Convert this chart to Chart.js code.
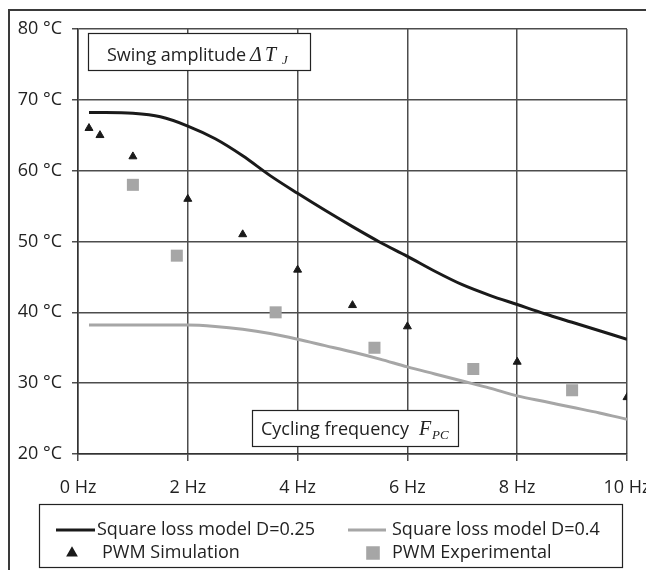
<!DOCTYPE html>
<html>
<head>
<meta charset="utf-8">
<script src="https://cdn.jsdelivr.net/npm/chart.js@4.4.1/dist/chart.umd.min.js"></script>
<style>
  html, body { margin: 0; padding: 0; background: #fff; }
  #wrap { position: relative; width: 646px; height: 570px; }
</style>
</head>
<body>
<div id="wrap"><canvas id="chart" width="646" height="570"></canvas></div>
<script>
// ── DATOS ──
const modelFreqs = [0.2, 0.5, 1, 1.5, 2, 2.5, 3, 3.5, 4, 4.5, 5, 5.5, 6, 6.5, 7, 7.5, 8, 8.5, 9, 9.5, 10];
const modelD025 = [68.2, 68.2, 68.1, 67.6, 66.3, 64.5, 62.1, 59.3, 56.8, 54.4, 52.1, 49.9, 47.9, 45.8, 43.9, 42.4, 41.1, 39.8, 38.6, 37.4, 36.2];
const modelD04 = [38.2, 38.2, 38.2, 38.2, 38.2, 38.0, 37.6, 37.0, 36.2, 35.3, 34.4, 33.4, 32.3, 31.3, 30.3, 29.3, 28.2, 27.4, 26.6, 25.8, 24.9];
const simFreqs = [0.2, 0.4, 1, 2, 3, 4, 5, 6, 8, 10];
const simValues = [66, 65, 62, 56, 51, 46, 41, 38, 33, 28];
const expFreqs = [1, 1.8, 3.6, 5.4, 7.2, 9];
const expValues = [58, 48, 40, 35, 32, 29];
const seriesNames = ['Square loss model D=0.25', 'Square loss model D=0.4', 'PWM Simulation', 'PWM Experimental'];
const xTicks = [0, 2, 4, 6, 8, 10];
const yTicks = [20, 30, 40, 50, 60, 70, 80];

const FONT = '"Open Sans", "Noto Sans", sans-serif';
const INK = '#222';
const BLACK = '#1a1a1a';
const GREY = '#a6a6a6';
const GRID = '#4d4d4d';

function pts(xs, ys) {
  return xs.map((x, i) => ({ x: x, y: ys[i] }));
}

// ── MARCO, LEYENDA Y CAJAS DE TEXTO ──
const framePlugin = {
  id: 'frame',
  beforeDraw(chart) {
    const c = chart.ctx;
    c.save();
    c.strokeStyle = '#3a3a3a';
    c.lineWidth = 2;
    c.beginPath();
    c.moveTo(9, 572);
    c.lineTo(9, 10);
    c.lineTo(650, 10);
    c.stroke();
    c.restore();
  }
};

function textBox(c, x, y, w, h, parts) {
  c.fillStyle = '#fff';
  c.fillRect(x, y, w, h);
  c.strokeStyle = '#222';
  c.lineWidth = 1.2;
  c.strokeRect(x + 0.5, y + 0.5, w, h);
  c.fillStyle = INK;
  c.textBaseline = 'alphabetic';
  c.textAlign = 'left';
  parts.forEach(p => {
    c.font = p.font;
    c.fillText(p.text, p.x, p.y);
  });
}

const notesPlugin = {
  id: 'notes',
  afterDraw(chart) {
    const c = chart.ctx;
    c.save();
    const sans = '18px ' + FONT;
    const serif = 'italic 20px "Liberation Serif", "DejaVu Serif", serif';
    const sub = 'italic 13px "Liberation Serif", "DejaVu Serif", serif';
    textBox(c, 88, 33, 222, 37, [
      { text: 'Swing amplitude', x: 107, y: 61, font: sans },
      { text: '\u0394', x: 250, y: 61, font: serif },
      { text: 'T', x: 265, y: 61, font: serif },
      { text: 'J', x: 282, y: 64, font: sub }
    ]);
    textBox(c, 252, 410, 206, 36, [
      { text: 'Cycling frequency', x: 261, y: 435, font: sans },
      { text: 'F', x: 419, y: 435, font: serif },
      { text: 'PC', x: 432, y: 439, font: sub }
    ]);
    c.restore();
  }
};

const legendPlugin = {
  id: 'boxLegend',
  afterDraw(chart) {
    const c = chart.ctx;
    const ds = chart.data.datasets;
    c.save();
    c.strokeStyle = '#222';
    c.lineWidth = 1.2;
    c.strokeRect(39.5, 504.5, 583, 63);
    c.font = '18px ' + FONT;
    c.fillStyle = INK;
    c.textBaseline = 'middle';
    c.textAlign = 'left';
    const rows = [530, 553];
    // líneas
    [[0, 56, 95, 97], [1, 348, 386, 392]].forEach(([i, x0, x1, tx]) => {
      c.strokeStyle = ds[i].borderColor;
      c.lineWidth = ds[i].borderWidth;
      c.beginPath();
      c.moveTo(x0, rows[0]);
      c.lineTo(x1, rows[0]);
      c.stroke();
      c.fillText(ds[i].label, tx, rows[0]);
    });
    // marcadores
    [[2, 72, 102, 3.8], [3, 373, 392, 7.5]].forEach(([i, mx, tx, r]) => {
      c.fillStyle = ds[i].backgroundColor;
      c.strokeStyle = ds[i].borderColor;
      Chart.helpers.drawPoint(c, { pointStyle: ds[i].pointStyle, radius: r, rotation: 0, borderWidth: 1 }, mx, rows[1]);
      c.fillStyle = INK;
      c.fillText(ds[i].label, tx, rows[1]);
    });
    c.restore();
  }
};

// ── GRÁFICA ──
new Chart(document.getElementById('chart').getContext('2d'), {
  type: 'scatter',
  data: {
    datasets: [
      {
        label: seriesNames[0], data: pts(modelFreqs, modelD025), showLine: true,
        borderColor: BLACK, backgroundColor: BLACK, borderWidth: 3, pointRadius: 0,
        cubicInterpolationMode: 'monotone'
      },
      {
        label: seriesNames[1], data: pts(modelFreqs, modelD04), showLine: true,
        borderColor: GREY, backgroundColor: GREY, borderWidth: 3, pointRadius: 0,
        cubicInterpolationMode: 'monotone'
      },
      {
        label: seriesNames[2], data: pts(simFreqs, simValues),
        pointStyle: 'triangle', pointRadius: 4.6, borderWidth: 1,
        borderColor: BLACK, backgroundColor: BLACK
      },
      {
        label: seriesNames[3], data: pts(expFreqs, expValues),
        pointStyle: 'rect', pointRadius: 8.5, borderWidth: 0,
        borderColor: GREY, backgroundColor: GREY
      }
    ]
  },
  options: {
    responsive: false,
    animation: false,
    devicePixelRatio: 1,
    layout: { padding: { left: 0, right: 19, top: 29, bottom: 0 } },
    plugins: { legend: { display: false }, tooltip: { enabled: false } },
    scales: {
      x: {
        type: 'linear', min: 0, max: 10,
        afterBuildTicks: s => { s.ticks = xTicks.map(v => ({ value: v })); },
        afterFit: s => { s.height = 116; s.paddingLeft = 0; s.paddingRight = 0; },
        grid: { color: GRID, lineWidth: 1.5, tickLength: 7, tickColor: GRID },
        border: { color: '#333', width: 1.5 },
        ticks: {
          color: INK, padding: 16, font: { family: FONT, size: 18 },
          callback: v => v + ' Hz'
        }
      },
      y: {
        type: 'linear', min: 20, max: 80,
        afterBuildTicks: s => { s.ticks = yTicks.map(v => ({ value: v })); },
        afterFit: s => { s.width = 78; s.paddingTop = 0; s.paddingBottom = 0; },
        grid: { color: GRID, lineWidth: 1.5, tickLength: 6, tickColor: GRID },
        border: { color: '#333', width: 1.5 },
        ticks: {
          color: INK, padding: 10, font: { family: FONT, size: 18 },
          callback: v => v + ' \u00b0C'
        }
      }
    }
  },
  plugins: [framePlugin, notesPlugin, legendPlugin]
});
</script>
</body>
</html>
